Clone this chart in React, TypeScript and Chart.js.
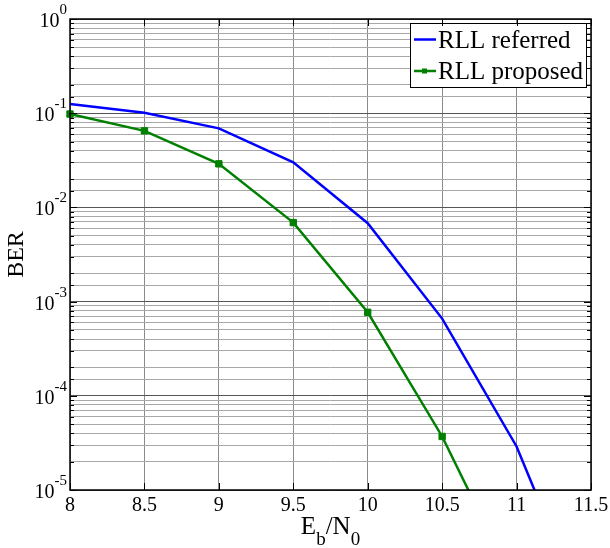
import { useEffect, useRef } from 'react';
import { Chart, registerables } from 'chart.js';

Chart.register(...registerables);

const ebn0 = [8, 8.5, 9, 9.5, 10, 10.5, 11, 11.5];
const rllReferred = [0.125, 0.101, 0.069, 0.0301, 0.0068, 6.6e-4, 2.9e-5, 3.5e-7];
const rllProposed = [0.098, 0.065, 0.029, 0.0069, 7.7e-4, 3.7e-5, 9e-7];
const seriesNames = ['RLL referred', 'RLL proposed'];
const xTickStep = 0.5;
const yMin = 1e-5;
const yMax = 1;

const FONT = '"Liberation Serif", "Times New Roman", serif';

const isDecade = (v: number) => {
  const l = Math.log10(v);
  return Math.abs(l - Math.round(l)) < 1e-6;
};

const overlay = {
  id: 'overlay',
  afterDraw(chart: any) {
    const { ctx, chartArea: a, scales } = chart;
    const xs = scales.x;
    const ys = scales.y;
    ctx.save();

    // legend
    const lx = 410, ly = 23, lw = 176, lh = 64;
    ctx.fillStyle = '#fff';
    ctx.fillRect(lx, ly, lw, lh);
    ctx.strokeStyle = '#000';
    ctx.lineWidth = 1;
    ctx.strokeRect(lx + 0.5, ly + 0.5, lw, lh);
    ctx.font = `25px ${FONT}`;
    ctx.textAlign = 'left';
    ctx.textBaseline = 'alphabetic';
    const rows = [
      { color: '#0000ff', y: 39.5, base: 48, marker: false },
      { color: '#008000', y: 71, base: 79, marker: true },
    ];
    rows.forEach((r, i) => {
      ctx.strokeStyle = r.color;
      ctx.lineWidth = 2.5;
      ctx.beginPath();
      ctx.moveTo(414, r.y);
      ctx.lineTo(436, r.y);
      ctx.stroke();
      if (r.marker) {
        ctx.fillStyle = r.color;
        ctx.fillRect(422, r.y - 2.5, 5, 5);
      }
      ctx.fillStyle = '#000';
      ctx.fillText(seriesNames[i], 438, r.base);
    });

    // axes box
    ctx.strokeStyle = '#000';
    ctx.lineWidth = 1.5;
    ctx.strokeRect(a.left, a.top, a.right - a.left, a.bottom - a.top);

    // tick marks (inward)
    ctx.lineWidth = 1;
    ctx.beginPath();
    ys.ticks.forEach((t: any) => {
      const y = Math.round(ys.getPixelForValue(t.value)) + 0.5;
      const len = isDecade(t.value) ? 7 : 4;
      ctx.moveTo(a.left, y);
      ctx.lineTo(a.left + len, y);
      ctx.moveTo(a.right, y);
      ctx.lineTo(a.right - len, y);
    });
    xs.ticks.forEach((t: any) => {
      const x = Math.round(xs.getPixelForValue(t.value)) + 0.5;
      ctx.moveTo(x, a.bottom);
      ctx.lineTo(x, a.bottom - 7);
      ctx.moveTo(x, a.top);
      ctx.lineTo(x, a.top + 7);
    });
    ctx.stroke();

    // x tick labels
    ctx.fillStyle = '#000';
    ctx.font = `20px ${FONT}`;
    ctx.textAlign = 'center';
    xs.ticks.forEach((t: any) => {
      const x = xs.getPixelForValue(t.value);
      ctx.fillText(String(t.value), x, a.bottom + 21);
    });

    // y tick labels 10^n
    ctx.textAlign = 'left';
    ys.ticks.forEach((t: any) => {
      if (!isDecade(t.value)) return;
      const e = String(Math.round(Math.log10(t.value)));
      const y = ys.getPixelForValue(t.value);
      ctx.font = `15px ${FONT}`;
      const ew = ctx.measureText(e).width;
      ctx.font = `20px ${FONT}`;
      const tw = ctx.measureText('10').width;
      const right = a.left - 3;
      ctx.fillText('10', right - ew - tw, y + 8);
      ctx.font = `15px ${FONT}`;
      ctx.fillText(e, right - ew, y - 5);
    });

    // y title
    ctx.save();
    ctx.translate(17, (a.top + a.bottom) / 2);
    ctx.rotate(-Math.PI / 2);
    ctx.font = `24px ${FONT}`;
    ctx.textAlign = 'center';
    ctx.textBaseline = 'middle';
    ctx.fillText('BER', 0, 0);
    ctx.restore();

    // x title E_b/N_0
    const parts = [
      { t: 'E', sub: false },
      { t: 'b', sub: true },
      { t: '/N', sub: false },
      { t: '0', sub: true },
    ];
    const fMain = `25px ${FONT}`;
    const fSub = `19px ${FONT}`;
    let total = 0;
    parts.forEach((p) => {
      ctx.font = p.sub ? fSub : fMain;
      total += ctx.measureText(p.t).width;
    });
    let cx = (a.left + a.right) / 2 - total / 2;
    ctx.textAlign = 'left';
    ctx.textBaseline = 'alphabetic';
    parts.forEach((p) => {
      ctx.font = p.sub ? fSub : fMain;
      ctx.fillText(p.t, cx, p.sub ? 545 : 534);
      cx += ctx.measureText(p.t).width;
    });

    ctx.restore();
  },
};

export default function App() {
  const ref = useRef<HTMLCanvasElement>(null);
  useEffect(() => {
    const chart = new Chart(ref.current as HTMLCanvasElement, {
      type: 'line',
      data: {
        datasets: [
          {
            label: seriesNames[0],
            data: rllReferred.map((y, i) => ({ x: ebn0[i], y })),
            borderColor: '#0000ff',
            backgroundColor: '#0000ff',
            borderWidth: 2.5,
            pointRadius: 0,
            tension: 0,
            clip: { left: 6, top: 0, right: 0, bottom: 0 } as any,
          },
          {
            label: seriesNames[1],
            data: rllProposed.map((y, i) => ({ x: ebn0[i], y })),
            borderColor: '#008000',
            backgroundColor: '#008000',
            borderWidth: 2.5,
            pointStyle: 'rect',
            pointRadius: 4.5,
            pointBorderWidth: 1,
            pointBackgroundColor: '#008000',
            pointBorderColor: '#008000',
            tension: 0,
            clip: { left: 6, top: 0, right: 0, bottom: 0 } as any,
          },
        ],
      },
      options: {
        animation: false,
        responsive: true,
        maintainAspectRatio: false,
        layout: { padding: { left: 70, top: 19, right: 19, bottom: 58 } },
        plugins: { legend: { display: false }, tooltip: { enabled: false } },
        scales: {
          x: {
            type: 'linear',
            min: ebn0[0],
            max: 11.5,
            ticks: { display: false, stepSize: xTickStep, autoSkip: false },
            grid: { color: '#8a8a8a', lineWidth: 1, drawTicks: false },
            border: { display: false },
          },
          y: {
            type: 'logarithmic',
            min: yMin,
            max: yMax,
            ticks: { display: false, autoSkip: false },
            grid: {
              color: (c: any) => (c.tick && isDecade(c.tick.value) ? '#555' : '#a8a8a8'),
              lineWidth: 1,
              drawTicks: false,
            },
            border: { display: false },
          },
        },
      },
      plugins: [overlay],
    });
    return () => chart.destroy();
  }, []);
  return (
    <div style={{ position: 'fixed', left: 0, top: 0, width: 610, height: 548, background: '#fff' }}>
      <canvas ref={ref} />
    </div>
  );
}
